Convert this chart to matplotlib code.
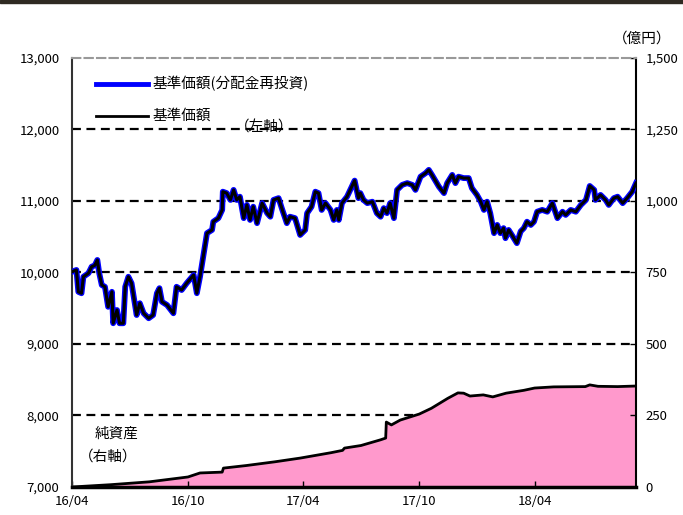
import numpy as np
import pandas as pd
import matplotlib
matplotlib.use("Agg")
import matplotlib.pyplot as plt
import matplotlib.dates as mdates
from matplotlib.patches import Rectangle

plt.rcParams['font.family'] = ['Noto Sans CJK JP', 'DejaVu Sans']

# 基準価額（左軸）
fechas_precio = [
    "2016-04-01", "2016-04-08", "2016-04-11", "2016-04-16", "2016-04-19", "2016-04-27",
    "2016-05-02", "2016-05-07", "2016-05-11", "2016-05-14", "2016-05-18", "2016-05-23",
    "2016-05-28", "2016-06-03", "2016-06-05", "2016-06-11", "2016-06-15", "2016-06-21",
    "2016-06-24", "2016-06-29", "2016-07-04", "2016-07-12", "2016-07-17", "2016-07-23",
    "2016-07-31", "2016-08-07", "2016-08-13", "2016-08-17", "2016-08-21", "2016-08-29",
    "2016-09-08", "2016-09-13", "2016-09-21", "2016-09-29", "2016-10-10", "2016-10-15",
    "2016-10-20", "2016-10-25", "2016-10-31", "2016-11-08", "2016-11-10", "2016-11-18",
    "2016-11-24", "2016-11-25", "2016-12-01", "2016-12-07", "2016-12-12", "2016-12-17",
    "2016-12-22", "2016-12-28", "2017-01-02", "2017-01-07", "2017-01-12", "2017-01-18",
    "2017-01-26", "2017-02-03", "2017-02-08", "2017-02-13", "2017-02-21", "2017-02-26",
    "2017-03-06", "2017-03-11", "2017-03-19", "2017-03-27", "2017-04-04", "2017-04-07",
    "2017-04-14", "2017-04-20", "2017-04-25", "2017-04-30", "2017-05-06", "2017-05-14",
    "2017-05-19", "2017-05-24", "2017-05-27", "2017-06-01", "2017-06-09", "2017-06-14",
    "2017-06-21", "2017-06-27", "2017-06-30", "2017-07-05", "2017-07-11", "2017-07-19",
    "2017-07-26", "2017-08-01", "2017-08-06", "2017-08-11", "2017-08-16", "2017-08-22",
    "2017-08-27", "2017-09-04", "2017-09-12", "2017-09-20", "2017-09-25", "2017-10-03",
    "2017-10-11", "2017-10-16", "2017-10-21", "2017-11-01", "2017-11-09", "2017-11-14",
    "2017-11-22", "2017-11-27", "2017-12-02", "2017-12-10", "2017-12-18", "2017-12-23",
    "2017-12-31", "2018-01-06", "2018-01-11", "2018-01-16", "2018-01-21", "2018-01-27",
    "2018-02-01", "2018-02-06", "2018-02-11", "2018-02-14", "2018-02-19", "2018-02-24",
    "2018-03-04", "2018-03-10", "2018-03-15", "2018-03-20", "2018-03-26", "2018-03-31",
    "2018-04-05", "2018-04-13", "2018-04-21", "2018-04-29", "2018-05-07", "2018-05-15",
    "2018-05-20", "2018-05-28", "2018-06-05", "2018-06-13", "2018-06-21", "2018-06-27",
    "2018-07-04", "2018-07-06", "2018-07-14", "2018-07-22", "2018-07-27", "2018-08-04",
    "2018-08-10", "2018-08-18", "2018-08-25", "2018-09-02", "2018-09-08",
]
precio = [
    10010, 10035, 9730, 9710, 9940, 9990,
    10080, 10100, 10175, 9990, 9825, 9800,
    9520, 9730, 9290, 9475, 9290, 9290,
    9800, 9940, 9850, 9405, 9570, 9430,
    9360, 9405, 9710, 9780, 9590, 9545,
    9430, 9800, 9755, 9850, 9965, 9710,
    9940, 10220, 10550, 10595, 10710, 10760,
    10875, 11130, 11110, 11015, 11155, 11015,
    11060, 10760, 10945, 10735, 10920, 10690,
    10970, 10830, 10780, 11015, 11040, 10900,
    10690, 10780, 10760, 10525, 10595, 10830,
    10920, 11130, 11110, 10875, 10970, 10875,
    10735, 10875, 10735, 10970, 11060, 11155,
    11285, 11040, 11110, 11015, 10970, 10990,
    10830, 10780, 10900, 10830, 10970, 10760,
    11155, 11225, 11250, 11225, 11155, 11340,
    11390, 11435, 11365, 11200, 11110, 11250,
    11365, 11250, 11340, 11320, 11320, 11180,
    11085, 10990, 10875, 10990, 10830, 10550,
    10665, 10550, 10620, 10480, 10595, 10525,
    10410, 10575, 10620, 10710, 10665, 10710,
    10850, 10875, 10850, 10970, 10760, 10850,
    10805, 10875, 10850, 10945, 11015, 11210,
    11155, 11015, 11085, 11015, 10945, 11040,
    11060, 10970, 11040, 11130, 11250,
]

# 純資産（右軸、億円）
fechas_activo = [
    "2016-04-01", "2016-06-01", "2016-08-01", "2016-10-01", "2016-10-20", "2016-11-24",
    "2016-11-26", "2017-01-01", "2017-02-15", "2017-03-27", "2017-05-15", "2017-06-02",
    "2017-06-05", "2017-07-01", "2017-08-01", "2017-08-09", "2017-08-10", "2017-08-18",
    "2017-09-01", "2017-10-01", "2017-10-20", "2017-11-15", "2017-12-01", "2017-12-10",
    "2017-12-20", "2018-01-10", "2018-01-25", "2018-02-15", "2018-03-15", "2018-04-01",
    "2018-05-01", "2018-06-20", "2018-06-27", "2018-07-10", "2018-08-10", "2018-09-08",
]
activo = [
    0, 8, 18, 35, 49, 52,
    66, 75, 88, 101, 120, 128,
    136, 145, 165, 171, 227, 217,
    234, 255, 275, 310, 329, 328,
    318, 322, 315, 328, 338, 346,
    350, 351, 357, 352, 351, 353,
]

fp = pd.to_datetime(fechas_precio)
fa = pd.to_datetime(fechas_activo)

fig = plt.figure(figsize=(6.83, 5.15), dpi=100)
fig.patches.append(Rectangle((0, 0.994), 1, 0.006, transform=fig.transFigure,
                             color='#2f2a22', zorder=10))

ax2 = fig.add_axes([0.1054, 0.0544, 0.8258, 0.833])
ax = ax2.twinx()
ax.yaxis.tick_left()
ax2.yaxis.tick_right()
ax.set_zorder(ax2.get_zorder() + 1)
ax.patch.set_visible(False)

# Líneas guía discontinuas
for v in [250, 500, 750, 1000, 1250]:
    ax2.axhline(v, color='black', linestyle=(0, (4, 2.5)), linewidth=1.6, zorder=0)

ax2.fill_between(fa, activo, 0, color='#ff99cc', linewidth=0, zorder=1)
ax2.plot(fa, activo, color='black', linewidth=2, zorder=2)
ax2.set_ylim(0, 1500)
ax2.set_yticks([0, 250, 500, 750, 1000, 1250, 1500])
ax2.set_yticklabels(['0', '250', '500', '750', '1,000', '1,250', '1,500'])

ax.plot(fp, precio, color='#0000ff', linewidth=4.2, solid_joinstyle='round')
ax.plot(fp, precio, color='black', linewidth=2.2, solid_joinstyle='round')
ax.set_ylim(7000, 13000)
ax.set_yticks(range(7000, 13001, 1000))
ax.set_yticklabels([f"{v:,}" for v in range(7000, 13001, 1000)])

ax2.set_xlim(pd.Timestamp("2016-04-01"), pd.Timestamp("2018-09-08"))
ticks_x = pd.to_datetime(["2016-04-01", "2016-10-01", "2017-04-01", "2017-10-01", "2018-04-01"])
ax2.set_xticks(ticks_x)
ax2.xaxis.set_major_formatter(mdates.DateFormatter('%y/%m'))

for a in (ax, ax2):
    a.tick_params(labelsize=9.5, length=4, width=1, direction='in', pad=7)
    for s in a.spines.values():
        s.set_visible(False)
ax2.tick_params(axis='x', pad=6, length=4)
ax.tick_params(axis='y', length=0, pad=9)

ax2.spines['left'].set_visible(True)
ax2.spines['left'].set_linewidth(1.5)
ax2.spines['left'].set_color('#333333')
ax2.spines['right'].set_visible(True)
ax2.spines['right'].set_linewidth(1.5)
ax2.spines['bottom'].set_visible(True)
ax2.spines['bottom'].set_linewidth(2.5)
ax2.spines['top'].set_visible(True)
ax2.spines['top'].set_color('#999999')
ax2.spines['top'].set_linestyle((0, (4, 2)))
ax2.spines['top'].set_linewidth(1.5)

# Leyenda manual
ax.plot([0.043, 0.135], [0.94, 0.94], transform=ax.transAxes, color='#0000ff', linewidth=3.5)
ax.text(0.143, 0.94, "基準価額(分配金再投資)", transform=ax.transAxes, fontsize=10.5, va='center')
ax.plot([0.043, 0.135], [0.865, 0.865], transform=ax.transAxes, color='black', linewidth=2)
ax.text(0.143, 0.865, "基準価額", transform=ax.transAxes, fontsize=10.5, va='center')
ax.text(0.34, 0.838, "（左軸）", transform=ax.transAxes, fontsize=10.5, va='center', ha='center')

ax.text(0.04, 0.125, "純資産", transform=ax.transAxes, fontsize=10.5, va='center')
ax.text(0.012, 0.07, "（右軸）", transform=ax.transAxes, fontsize=10.5, va='center')
fig.text(0.94, 0.925, "（億円）", fontsize=10.5, ha='center', va='center')

fig.savefig("out.png", dpi=100)
